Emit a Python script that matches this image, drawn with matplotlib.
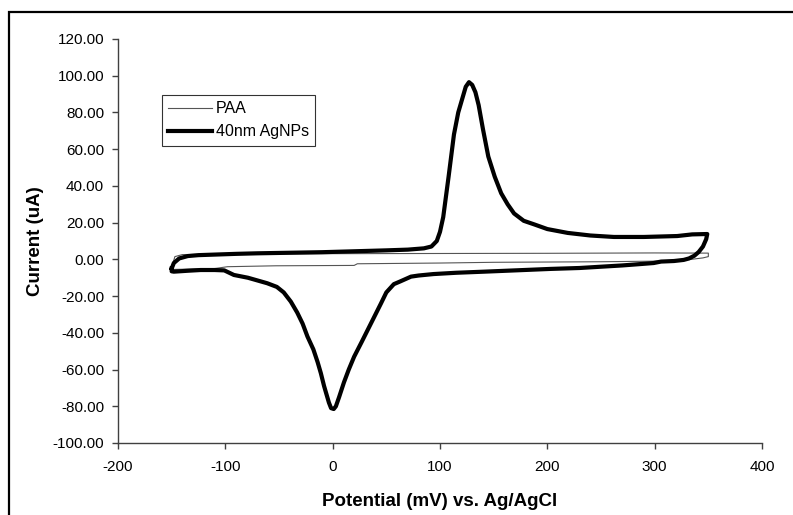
import matplotlib
matplotlib.use("Agg")
import matplotlib.pyplot as plt
from matplotlib.patches import Rectangle
from matplotlib.ticker import FormatStrFormatter

plt.rcParams['font.family'] = ['Liberation Sans', 'DejaVu Sans']
plt.rcParams['axes.unicode_minus'] = False

# 40nm AgNPs cyclic voltammogram (mV, uA), one closed loop
ag_x = [-150, -148, -143, -135, -125, -110, -90, -70, -40, -10, 20, 50, 70, 85, 92, 97,
        100, 103, 108, 113, 117, 121, 124, 127, 130, 133, 136, 140, 145, 151, 157, 163,
        169, 178, 188, 200, 219, 240, 262, 290, 321, 335, 349,
        348, 345, 341, 337, 332, 327, 318, 306, 299, 288, 270, 250, 230, 203, 170, 141,
        115, 94, 80, 73, 63, 57, 50, 45, 39, 33, 27, 20, 15, 10.5, 6, 3, 1, -1.5, -3.5,
        -6, -8, -11, -14, -18, -23.5, -28, -33, -39, -45.6, -52, -61, -70, -79, -92, -101,
        -110, -123, -135, -148, -150, -150]
ag_y = [-5, -2, 0.5, 1.8, 2.3, 2.6, 3.0, 3.3, 3.6, 3.9, 4.4, 4.9, 5.3, 6.0, 7.0, 10,
        15, 23, 45, 68, 80, 88, 94, 96.5, 95, 91, 84, 71, 56, 45, 36, 30,
        25, 21, 19, 16.5, 14.4, 13, 12.2, 12.2, 12.7, 13.6, 13.8,
        11, 7, 4, 2.0, 0.5, -0.3, -0.9, -1.2, -2, -2.5, -3.3, -4, -4.7, -5.2, -6, -6.7,
        -7.3, -8, -8.8, -9.4, -12, -13.5, -18, -24, -31, -38, -45, -53, -60, -67, -75, -80, -81.5, -81, -78,
        -73, -69, -62, -56, -49, -42, -35, -29, -23, -18, -15, -13, -11.5, -10, -8.5, -6,
        -5.8, -5.8, -6.2, -6.7, -6.5, -5]

# PAA blank
paa_x = [-150, -147, -140, -100, 0, 100, 200, 300, 350,
         350, 345, 334, 318, 296, 250, 150, 100, 23, 20, -53, -98, -110, -150]
paa_y = [-4.5, 1.5, 2.6, 2.9, 3.1, 3.2, 3.3, 3.5, 3.4,
         1.5, 0.8, 0, -0.7, -1.0, -1.3, -1.6, -2.0, -2.4, -3.3, -3.5, -4.0, -5.0, -5.5]

fig = plt.figure(figsize=(7.93, 5.15), dpi=100)
ax = fig.add_axes([118/793, 1 - 443/515, 644/793, 404/515])

# outer frame (cut off at right/bottom like the original)
fig.patches.append(Rectangle((9/793, -0.05), 1.2, 1 - 12/515 + 0.05, transform=fig.transFigure,
                             fill=False, edgecolor='black', linewidth=1.6))

ax.plot(paa_x, paa_y, color='#555555', linewidth=0.8, label='PAA')
ax.plot(ag_x, ag_y, color='black', linewidth=3, label='40nm AgNPs')

ax.set_xlim(-200, 400)
ax.set_ylim(-100, 120)
ax.set_xticks([-200, -100, 0, 100, 200, 300, 400])
ax.set_yticks([-100, -80, -60, -40, -20, 0, 20, 40, 60, 80, 100, 120])
ax.yaxis.set_major_formatter(FormatStrFormatter('%.2f'))

for s in ['top', 'right']:
    ax.spines[s].set_visible(False)
for s in ['left', 'bottom']:
    ax.spines[s].set_color('#404040')
    ax.spines[s].set_linewidth(1)
ax.tick_params(direction='out', length=4, width=1, color='#404040', labelsize=11)
ax.tick_params(axis='x', pad=8)
ax.tick_params(axis='y', pad=6)

ax.set_xlabel('Potential (mV) vs. Ag/AgCl', fontsize=13.5, fontweight='bold', labelpad=14)
ax.set_ylabel('Current (uA)', fontsize=13.5, fontweight='bold', labelpad=6)

leg = ax.legend(loc='upper left', bbox_to_anchor=((162 - 118) / 644, (443 - 95) / 404),
                fontsize=11.5, frameon=True, fancybox=False, handlelength=2.7,
                borderpad=0.4, labelspacing=0.5, handletextpad=0.25, borderaxespad=0)
leg.get_frame().set_edgecolor('black')
leg.get_frame().set_linewidth(0.8)

fig.savefig('out.png', dpi=100)
